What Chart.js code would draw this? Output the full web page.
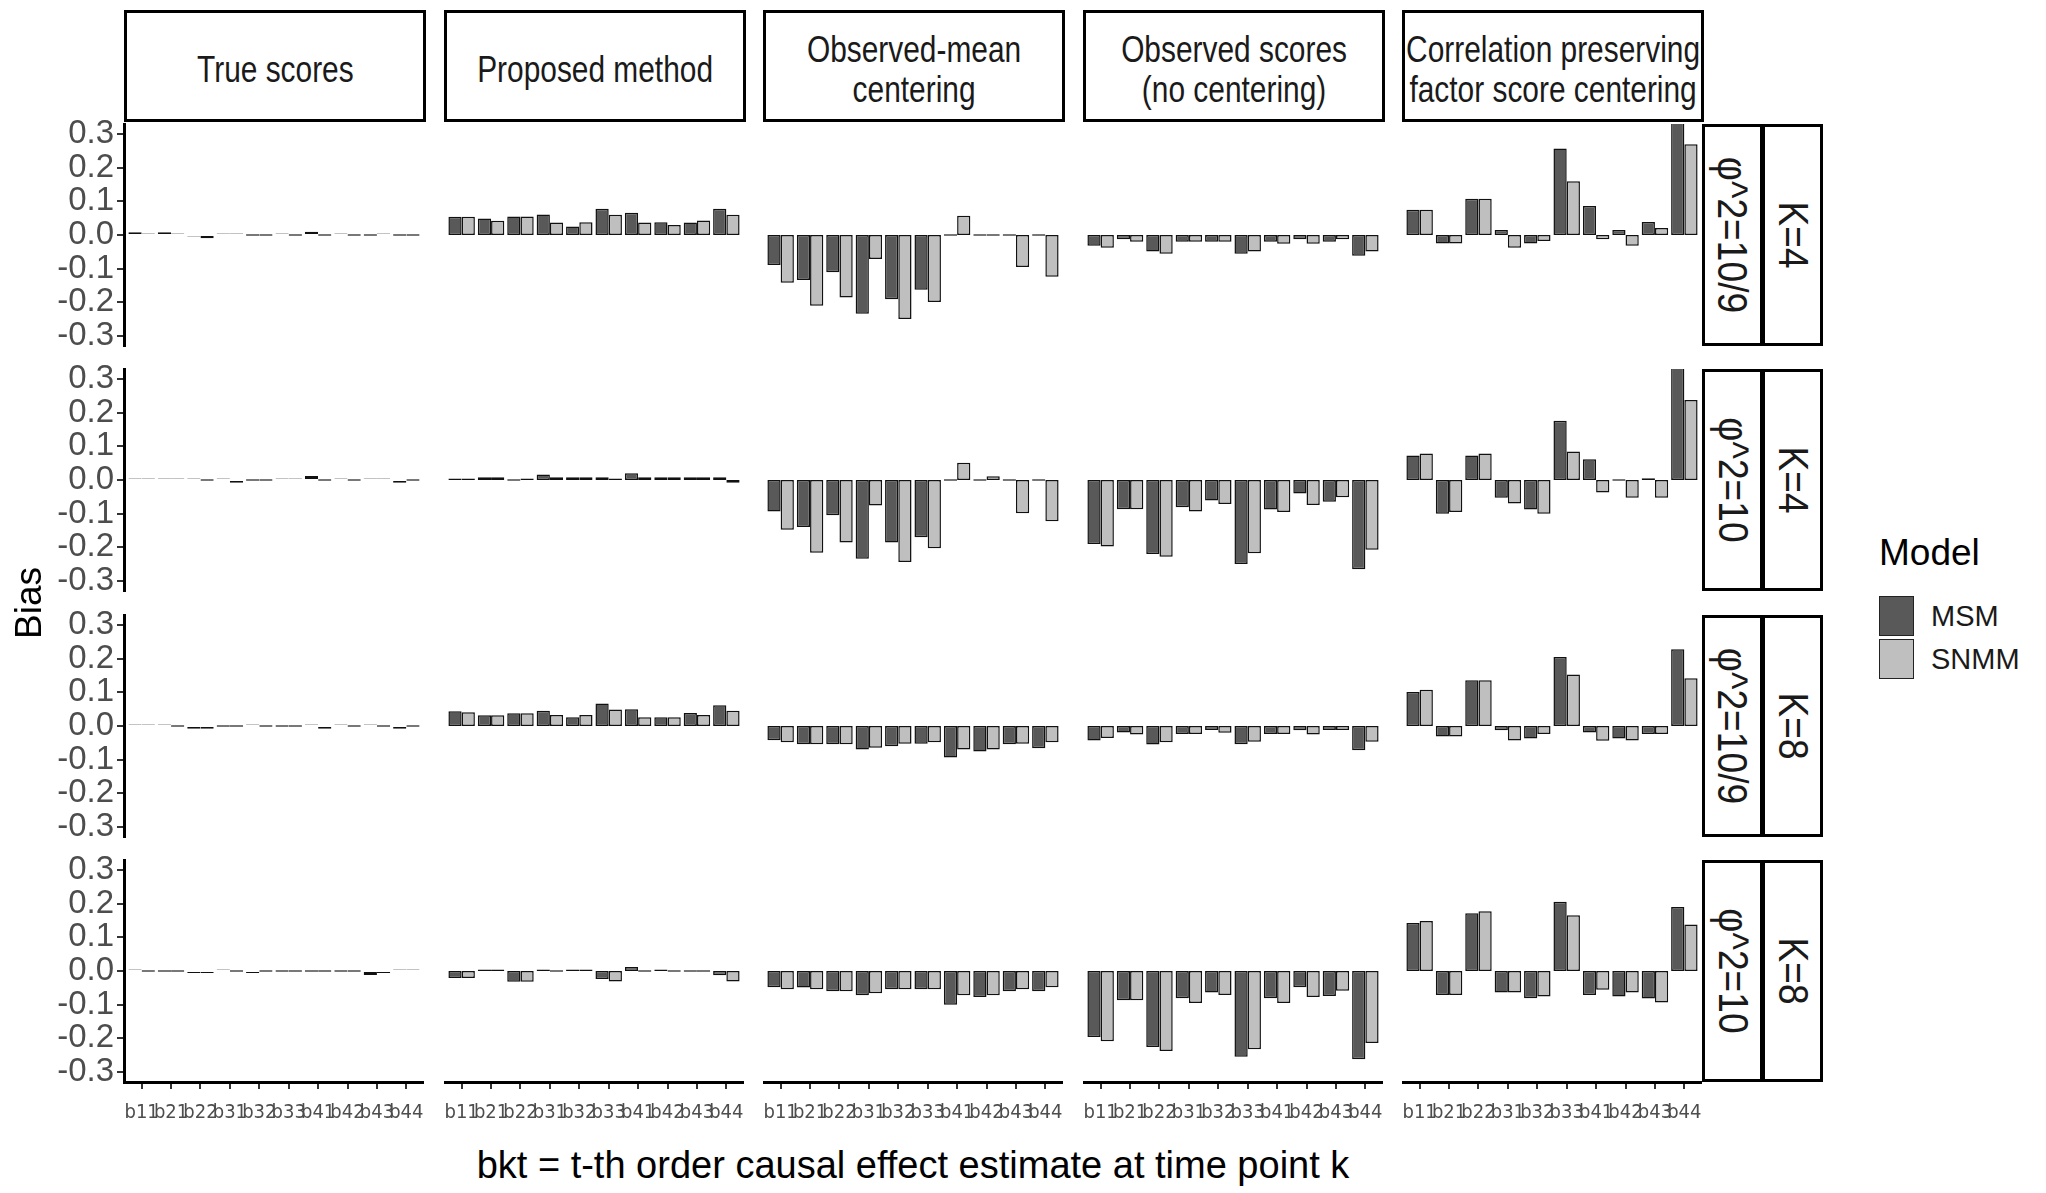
<!DOCTYPE html>
<html>
<head>
<meta charset="utf-8">
<script src="https://cdn.jsdelivr.net/npm/chart.js@4.4.1/dist/chart.umd.min.js"></script>
<style>
  body { margin: 0; background: #fff; }
  #page { position: relative; width: 2046px; height: 1193px; overflow: hidden; background: #fff;
          font-family: "Liberation Sans", Arial, sans-serif; color: #1a1a1a; }
  .box { position: absolute; box-sizing: border-box; border: 3.5px solid #000; background: #fff;
         display: flex; align-items: center; justify-content: center; text-align: center; }
  .head { padding-top: 7px; }
  .head span { display: inline-block; font-size: 36px; line-height: 40px; white-space: nowrap; transform: scaleX(0.83); }
  .side span { display: inline-block; transform: rotate(90deg) scaleX(0.885); white-space: nowrap; font-size: 42px; }
  .txt { position: absolute; white-space: nowrap; }
  .panel { position: absolute; }
  .key { position: absolute; box-sizing: border-box; width: 35px; height: 40px; border: 1.5px solid #222; }
</style>
</head>
<body>
<div id="page"></div>
<script>
// categories and facet labels
const categories = ['b11', 'b21', 'b22', 'b31', 'b32', 'b33', 'b41', 'b42', 'b43', 'b44'];
const methods = ['True scores', 'Proposed method', 'Observed-mean<br>centering',
                 'Observed scores<br>(no centering)', 'Correlation preserving<br>factor score centering'];
const phiLabels = ['φ^2=10/9', 'φ^2=10', 'φ^2=10/9', 'φ^2=10'];
const kLabels = ['K=4', 'K=4', 'K=8', 'K=8'];
const seriesNames = ['MSM', 'SNMM'];
const yTicks = [-0.3, -0.2, -0.1, 0.0, 0.1, 0.2, 0.3];

// bias values, one row per facet row (top to bottom)
const trueMSM = [
  [0.008, 0.008, -0.002, 0.003, 0, 0.004, 0.01, 0.004, 0, 0],
  [0.002, 0.002, 0.003, 0.002, 0, 0.002, 0.012, 0.004, 0.003, -0.008],
  [0.003, 0.003, -0.008, 0, 0.004, 0, 0.003, 0.003, 0.003, -0.008],
  [0.004, 0, -0.006, 0.004, -0.006, 0, 0, 0, -0.012, 0.003]
];
const trueSNMM = [
  [0.003, 0.003, -0.01, 0.003, 0, 0, 0, 0, 0.004, 0],
  [0.002, 0.002, 0, -0.008, 0, 0.002, 0, 0, 0.003, 0],
  [0.003, 0, -0.008, 0, 0, 0, -0.008, 0, 0, 0],
  [0, 0, -0.006, 0, 0, 0, 0, 0, -0.006, 0.003]
];
const propMSM = [
  [0.054, 0.049, 0.055, 0.061, 0.025, 0.078, 0.066, 0.038, 0.037, 0.078],
  [0.002, 0.008, 0, 0.016, 0.008, 0.008, 0.02, 0.008, 0.008, 0.008],
  [0.044, 0.032, 0.038, 0.045, 0.026, 0.067, 0.05, 0.026, 0.039, 0.062],
  [-0.021, 0.003, -0.032, 0.004, 0.003, -0.024, 0.012, 0.004, 0, -0.013]
];
const propSNMM = [
  [0.054, 0.042, 0.055, 0.037, 0.038, 0.06, 0.037, 0.03, 0.043, 0.06],
  [0.002, 0.008, 0.004, 0.008, 0.008, 0.003, 0.008, 0.008, 0.008, -0.008],
  [0.041, 0.032, 0.038, 0.033, 0.033, 0.049, 0.026, 0.026, 0.033, 0.045],
  [-0.021, 0.003, -0.032, 0, 0.003, -0.031, 0, 0, 0, -0.031]
];
const obsMeanMSM = [
  [-0.089, -0.134, -0.111, -0.234, -0.191, -0.163, 0, 0, 0, 0],
  [-0.094, -0.14, -0.105, -0.234, -0.186, -0.17, 0, 0, 0, 0],
  [-0.042, -0.054, -0.054, -0.07, -0.06, -0.053, -0.094, -0.076, -0.054, -0.066],
  [-0.048, -0.049, -0.06, -0.072, -0.054, -0.054, -0.1, -0.077, -0.06, -0.06]
];
const obsMeanSNMM = [
  [-0.142, -0.21, -0.186, -0.071, -0.25, -0.199, 0.057, 0, -0.095, -0.124],
  [-0.148, -0.216, -0.186, -0.076, -0.244, -0.203, 0.051, 0.011, -0.099, -0.123],
  [-0.048, -0.054, -0.054, -0.065, -0.053, -0.048, -0.07, -0.07, -0.053, -0.048],
  [-0.054, -0.054, -0.06, -0.066, -0.054, -0.054, -0.072, -0.072, -0.054, -0.048]
];
const obsMSM = [
  [-0.032, -0.013, -0.049, -0.02, -0.02, -0.056, -0.02, -0.013, -0.02, -0.062],
  [-0.19, -0.087, -0.22, -0.081, -0.061, -0.25, -0.088, -0.04, -0.065, -0.265],
  [-0.043, -0.019, -0.055, -0.024, -0.012, -0.054, -0.024, -0.013, -0.012, -0.072],
  [-0.196, -0.087, -0.226, -0.081, -0.064, -0.255, -0.081, -0.048, -0.074, -0.262]
];
const obsSNMM = [
  [-0.038, -0.02, -0.056, -0.02, -0.02, -0.049, -0.026, -0.026, -0.013, -0.049],
  [-0.198, -0.087, -0.228, -0.094, -0.071, -0.218, -0.095, -0.074, -0.051, -0.207],
  [-0.036, -0.025, -0.048, -0.024, -0.02, -0.047, -0.024, -0.025, -0.012, -0.047],
  [-0.209, -0.087, -0.238, -0.095, -0.071, -0.233, -0.095, -0.077, -0.059, -0.214]
];
const corrMSM = [
  [0.075, -0.025, 0.108, 0.015, -0.025, 0.257, 0.086, 0.015, 0.039, 0.36],
  [0.073, -0.1, 0.073, -0.053, -0.088, 0.176, 0.062, 0, 0.005, 0.36],
  [0.101, -0.031, 0.136, -0.013, -0.037, 0.205, -0.019, -0.037, -0.024, 0.228],
  [0.143, -0.071, 0.172, -0.064, -0.081, 0.206, -0.071, -0.076, -0.082, 0.19]
];
const corrSNMM = [
  [0.075, -0.025, 0.108, -0.038, -0.018, 0.16, -0.013, -0.032, 0.021, 0.27],
  [0.079, -0.095, 0.079, -0.07, -0.1, 0.085, -0.037, -0.053, -0.053, 0.238],
  [0.108, -0.031, 0.136, -0.043, -0.024, 0.153, -0.044, -0.043, -0.024, 0.142],
  [0.149, -0.071, 0.178, -0.064, -0.076, 0.166, -0.056, -0.064, -0.094, 0.138]
];

const msmByMethod = [trueMSM, propMSM, obsMeanMSM, obsMSM, corrMSM];
const snmmByMethod = [trueSNMM, propSNMM, obsMeanSNMM, obsSNMM, corrSNMM];

// layout
const page = document.getElementById('page');
const colLeft = [124, 444, 763, 1083, 1402];
const rowTop = [124, 369, 615, 860];
const panelW = 300, panelH = 222;
const yAxisW = 92, xAxisH = 52, labelPad = 20;
const msmFill = '#595959', snmmFill = '#bfbfbf';

function addDiv(cls, css, html) {
  const d = document.createElement('div');
  d.className = cls;
  Object.assign(d.style, css);
  d.innerHTML = html;
  page.appendChild(d);
  return d;
}

// column strips
methods.forEach((m, c) => {
  addDiv('box head', { left: colLeft[c] + 'px', top: '10px', width: panelW + 2 + 'px', height: '112px' }, '<span>' + m + '</span>');
});
// row strips
for (let r = 0; r < 4; r++) {
  addDiv('box side', { left: '1702px', top: rowTop[r] + 'px', width: '61px', height: panelH + 'px' }, '<span>' + phiLabels[r] + '</span>');
  addDiv('box side', { left: '1762px', top: rowTop[r] + 'px', width: '61px', height: panelH + 'px' }, '<span>' + kLabels[r] + '</span>');
}

// panels
for (let r = 0; r < 4; r++) {
  for (let c = 0; c < 5; c++) {
    const hasY = c === 0, hasX = r === 3;
    // the first column gets extra room so the end tick labels are not cut
    const padTop = hasY ? labelPad : 0;
    const padBottom = hasY && !hasX ? labelPad : 0;
    const w = panelW + (hasY ? yAxisW : 0);
    const h = panelH + (hasX ? xAxisH : 0) + padTop + padBottom;
    const holder = addDiv('panel', { left: (colLeft[c] - (hasY ? yAxisW : 0)) + 'px', top: (rowTop[r] - padTop) + 'px',
                                     width: w + 'px', height: h + 'px' }, '');
    const cv = document.createElement('canvas');
    holder.appendChild(cv);

    new Chart(cv, {
      type: 'bar',
      data: {
        labels: categories,
        datasets: [
          { label: seriesNames[0], data: msmByMethod[c][r], backgroundColor: msmFill },
          { label: seriesNames[1], data: snmmByMethod[c][r], backgroundColor: snmmFill }
        ]
      },
      options: {
        responsive: true,
        maintainAspectRatio: false,
        animation: false,
        layout: { padding: { top: padTop, bottom: padBottom, left: 0, right: 0 } },
        datasets: {
          bar: { borderColor: '#111', borderWidth: 1.5, borderSkipped: false,
                 categoryPercentage: 0.9, barPercentage: 1, minBarLength: 1.5 }
        },
        plugins: { legend: { display: false }, tooltip: { enabled: false } },
        scales: {
          x: {
            display: hasX,
            offset: true,
            // ggplot pads a discrete axis by 0.6 of a category on each side
            afterBuildTicks: s => { s._valueRange += 0.2; s._startValue -= 0.1; },
            afterFit: s => { s.height = hasX ? xAxisH : 0; s.paddingLeft = 0; s.paddingRight = 0; },
            grid: { display: true, drawOnChartArea: false, offset: false, tickLength: 7, color: '#333', lineWidth: 2 },
            border: { display: true, color: '#000', width: 3 },
            ticks: { autoSkip: false, maxRotation: 0, minRotation: 0, padding: 12, color: '#4d4d4d',
                     font: { size: 20, family: '"DejaVu Sans Condensed", "Liberation Sans", sans-serif' } }
          },
          y: {
            display: hasY,
            min: -0.33, max: 0.33,
            afterBuildTicks: s => { s.ticks = yTicks.map(v => ({ value: v })); },
            afterFit: s => { s.width = hasY ? yAxisW : 0; s.paddingTop = 0; s.paddingBottom = 0; },
            grid: { display: true, drawOnChartArea: false, tickLength: 7, color: '#333', lineWidth: 2 },
            border: { display: true, color: '#000', width: 3 },
            ticks: { autoSkip: false, padding: 3, color: '#4d4d4d',
                     font: { size: 33, family: '"Liberation Sans", Arial, sans-serif' },
                     callback: v => Number(v).toFixed(1) }
          }
        }
      }
    });
  }
}

// axis titles
addDiv('txt', { left: '913px', top: '1165px', transform: 'translate(-50%, -50%)', fontSize: '38px', color: '#000' },
       'bkt = t-th order causal effect estimate at time point k');
addDiv('txt', { left: '29px', top: '603px', transform: 'translate(-50%, -50%) rotate(-90deg)', fontSize: '37px', color: '#000' },
       'Bias');

// legend
addDiv('txt', { left: '1879px', top: '553px', transform: 'translateY(-50%)', fontSize: '37px', color: '#000' }, 'Model');
[msmFill, snmmFill].forEach((col, i) => {
  addDiv('key', { left: '1879px', top: (596 + i * 43) + 'px', background: col }, '');
  addDiv('txt', { left: '1931px', top: (616 + i * 43) + 'px', transform: 'translateY(-50%)', fontSize: '29px', color: '#1a1a1a' }, seriesNames[i]);
});
</script>
</body>
</html>
